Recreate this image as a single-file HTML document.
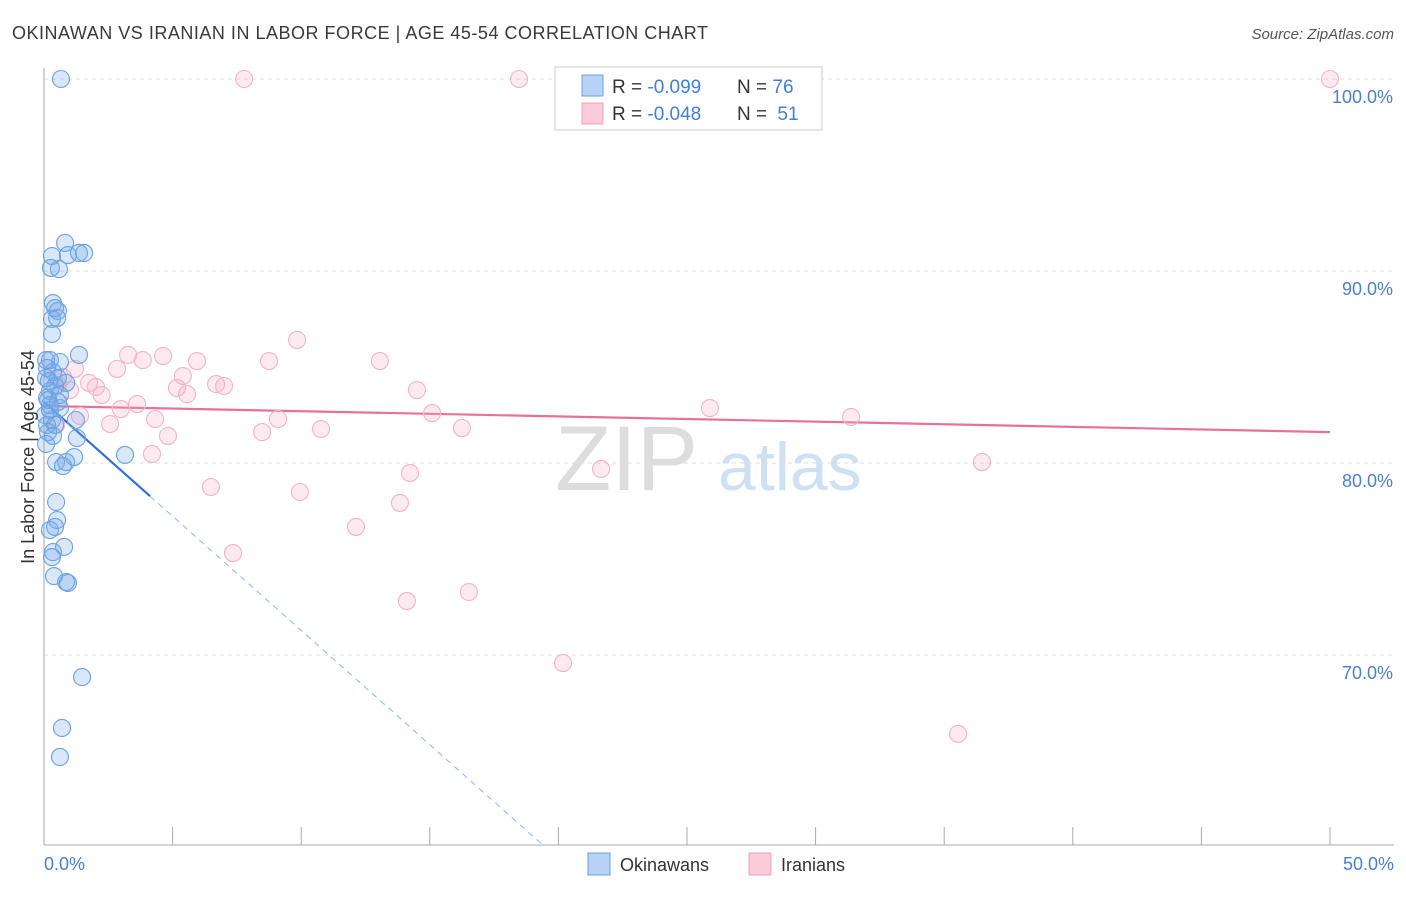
<!DOCTYPE html>
<html><head><meta charset="utf-8"><style>
body{margin:0;background:#fff;font-family:"Liberation Sans",sans-serif;}
svg text{font-family:"Liberation Sans",sans-serif;}
</style></head><body>
<svg id="chart" width="1406" height="892" xmlns="http://www.w3.org/2000/svg">
<text x="12" y="39" font-size="18" fill="#3a3a3a" textLength="696" lengthAdjust="spacing">OKINAWAN VS IRANIAN IN LABOR FORCE | AGE 45-54 CORRELATION CHART</text>
<text x="1394" y="39" font-size="15" fill="#555" text-anchor="end" font-style="italic">Source: ZipAtlas.com</text>
<g>
<text x="555" y="490" font-size="92" fill="#ddd" font-family="Liberation Serif">ZIP</text>
<text x="718" y="490" font-size="68" fill="#cfe0f3">atlas</text>
</g>
<g id="grid"></g>
<g id="axes"></g>
<g id="trend"></g>
<g id="pts"></g>
<text transform="translate(34,457) rotate(-90)" font-size="18" fill="#333" text-anchor="middle">In Labor Force | Age 45-54</text>
<text x="44" y="870" font-size="18" fill="#4a7fd0">0.0%</text>
<text x="1394" y="870" font-size="18" fill="#4a7fd0" text-anchor="end">50.0%</text>
<g>
<rect x="555" y="67" width="267" height="63" fill="#fff" stroke="#ccc"/>
<rect x="582" y="75" width="21" height="21" fill="#b8d2f5" stroke="#6aa0e0"/>
<rect x="582" y="103" width="21" height="21" fill="#fbcbda" stroke="#f0a0bc"/>
<text x="612" y="93" font-size="19" fill="#333">R = <tspan fill="#3f7ee0">-0.099</tspan></text>
<text x="737" y="93" font-size="19" fill="#333">N = <tspan fill="#3f7ee0">76</tspan></text>
<text x="612" y="120" font-size="19" fill="#333">R = <tspan fill="#3f7ee0">-0.048</tspan></text>
<text x="737" y="120" font-size="19" fill="#333">N = <tspan fill="#3f7ee0" dx="5">51</tspan></text>
</g>
<g>
<rect x="588" y="853" width="22" height="22" fill="#b8d2f5" stroke="#6aa0e0"/>
<text x="620" y="871" font-size="18" fill="#333">Okinawans</text>
<rect x="749" y="853" width="22" height="22" fill="#fbcbda" stroke="#f0a0bc"/>
<text x="781" y="871" font-size="18" fill="#333">Iranians</text>
</g>
</svg>
<script>
const yTicks=[100,90,80,70];
const xTicks=[0,5,10,15,20,25,30,35,40,45,50];
const blueX=[0.66,0.82,0.31,0.93,1.36,1.56,0.27,0.58,0.35,0.43,0.54,0.31,0.51,0.31,1.36,0.23,0.62,0.12,0.35,0.54,0.19,0.86,0.43,0.23,0.12,0.62,0.16,0.23,0.62,0.04,0.31,1.24,0.43,0.12,0.16,0.35,1.28,0.08,1.17,3.15,0.47,0.86,0.74,0.47,0.51,0.43,0.23,0.78,0.35,0.31,0.39,0.86,0.93,1.48,0.70,0.62,0.08,0.23,0.54,0.08];
const blueY=[100,91.46,90.78,90.83,90.94,90.94,90.16,90.10,88.33,88.07,87.92,87.5,87.55,86.72,85.63,85.36,85.26,84.95,84.74,84.43,84.27,84.17,84.01,83.75,83.39,83.54,83.28,82.76,82.86,82.5,82.24,82.24,81.98,81.98,81.61,81.41,81.30,80.99,80.31,80.42,80.05,80.05,79.84,77.97,77.03,76.67,76.51,75.63,75.36,75.10,74.11,73.80,73.75,68.85,66.20,64.69,84.43,83.02,83.18,85.36];
const pinkX=[7.78,18.47,50,9.84,3.27,4.63,3.84,5.95,8.75,13.06,2.84,1.20,5.40,0.74,1.75,2.02,6.69,7.00,5.17,5.56,14.50,2.24,3.62,2.99,25.89,15.09,1.40,4.32,9.10,31.38,2.57,0.47,10.77,16.25,8.48,4.82,4.20,36.47,21.66,14.23,6.49,9.95,13.84,12.13,7.35,16.52,14.11,20.18,35.54,0.54,1.01];
const pinkY=[100,100,100,86.41,85.63,85.57,85.36,85.31,85.31,85.31,84.90,84.90,84.53,84.48,84.17,83.96,84.11,84.01,83.91,83.59,83.80,83.54,83.07,82.81,82.86,82.60,82.45,82.29,82.29,82.40,82.03,81.98,81.77,81.82,81.61,81.41,80.47,80.05,79.69,79.48,78.75,78.49,77.92,76.67,75.31,73.28,72.81,69.58,65.89,84.06,83.8];
const pinkTrend=[82.97,81.61];
const blueTrend=[83.18,-1.19];
const blueSolidEnd=4.12;
const X=v=>44+v*25.72, Y=v=>79+(100-v)*19.2;
const NS='http://www.w3.org/2000/svg';
function mk(p,t,a){const e=document.createElementNS(NS,t);for(const k in a)e.setAttribute(k,a[k]);p.appendChild(e);return e;}
const grid=document.getElementById('grid');
yTicks.forEach(v=>{
 const l=mk(grid,'line',{x1:44,x2:1394,y1:Y(v),y2:Y(v),stroke:'#ddd','stroke-dasharray':'4,4'});
 
 
 const t=mk(grid,'text',{x:1393,y:Y(v)+24,'font-size':18,fill:'#4a7fd0','text-anchor':'end'});
 t.textContent=v.toFixed(1)+'%';
 
 
});
const ax=document.getElementById('axes');
const a1=mk(ax,'line',{x1:44,x2:44,y1:68,y2:845,stroke:'#aaa'});


const a2=mk(ax,'line',{x1:44,x2:1394,y1:845,y2:845,stroke:'#aaa'});


xTicks.forEach(v=>{if(v===0)return;
 const t=mk(ax,'line',{x1:X(v),x2:X(v),y1:827,y2:845,stroke:'#aaa'});
 
 
});
const pts=document.getElementById('pts');
pinkX.forEach((x,i)=>{
 const c=mk(pts,'circle',{cx:X(x),cy:Y(pinkY[i]),r:8.5,fill:'rgba(245,170,195,0.25)',stroke:'#f4b2c8','stroke-width':1.1});
 
 
});
blueX.forEach((x,i)=>{
 const c=mk(pts,'circle',{cx:X(x),cy:Y(blueY[i]),r:8.5,fill:'rgba(120,170,235,0.28)',stroke:'#6aa2e3','stroke-width':1.1});
 
 
});
const tr=document.getElementById('trend');
const pl=mk(tr,'line',{x1:X(0),y1:Y(pinkTrend[0]),x2:X(50),y2:Y(pinkTrend[1]),stroke:'#e8709a','stroke-width':2.2});


const bf=v=>blueTrend[0]+blueTrend[1]*v;
const xEnd=(blueTrend[0]-60.1)/(-blueTrend[1]);
const bd=mk(tr,'line',{x1:X(blueSolidEnd),y1:Y(bf(blueSolidEnd)),x2:X(xEnd),y2:Y(bf(xEnd)),stroke:'#8fb5e6','stroke-width':1,'stroke-dasharray':'6,5'});


const bs=mk(tr,'line',{x1:X(0),y1:Y(bf(0)),x2:X(blueSolidEnd),y2:Y(bf(blueSolidEnd)),stroke:'#2f6fd6','stroke-width':2.2});


</script>
</body></html>
